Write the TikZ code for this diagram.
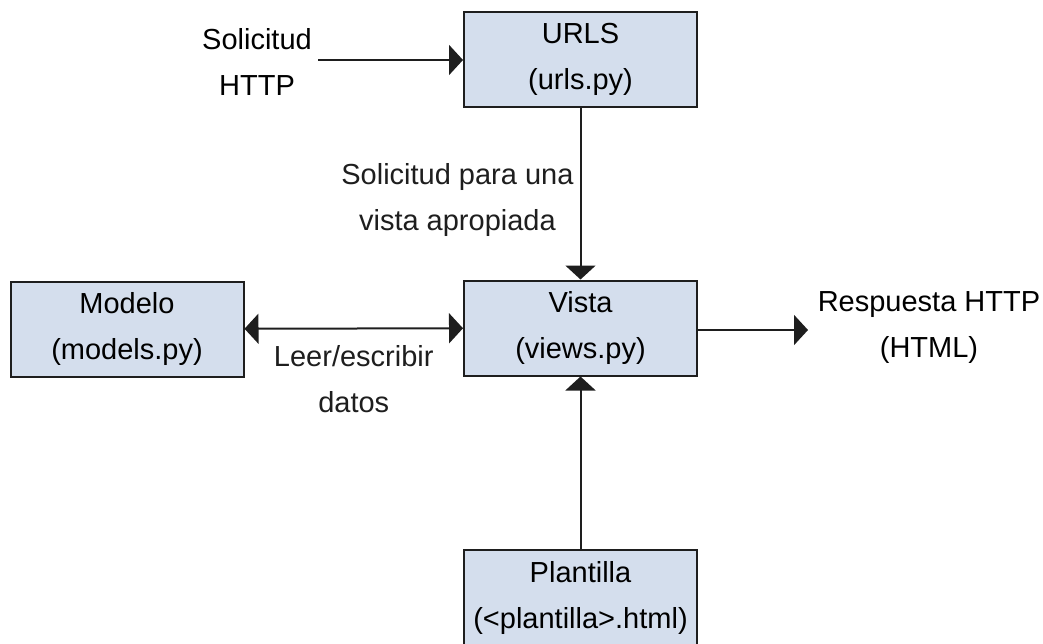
\documentclass[tikz,border=0pt]{standalone}
\usepackage{fontspec}
\setmainfont{Liberation Sans}
\usepackage{xcolor}
\definecolor{boxfill}{RGB}{212,222,237}
\definecolor{boxline}{RGB}{30,30,30}
\usetikzlibrary{arrows.meta,positioning}

\begin{document}
\begin{tikzpicture}[
    x=0.5pt, y=-0.5pt,
    comp/.style={rectangle, draw=boxline, line width=1pt, fill=boxfill,
                 minimum width=116.5pt, minimum height=47.5pt,
                 inner sep=0pt, align=center,
                 font=\fontsize{14.5}{23}\selectfont},
    lbl/.style={align=center, inner sep=0pt,
                font=\fontsize{14.5}{23}\selectfont},
    arr/.style={-{Triangle[length=7pt, width=15pt]}, line width=1pt, boxline},
    dblarr/.style={{Triangle[length=7pt, width=15pt]}-{Triangle[length=7pt, width=15pt]},
                   line width=1pt, boxline},
  ]
    \useasboundingbox (0,0) rectangle (1043,643);
    % components
    \node[comp] (urls) at (580.5,59.5) {URLS\\(urls.py)};
    \node[comp] (vista) at (580.5,328) {Vista\\(views.py)};
    \node[comp] (modelo) at (127,329) {Modelo\\(models.py)};
    \node[comp] (plantilla) at (580.5,597.5) {Plantilla\\(<plantilla>.html)};
    % free labels
    \node[lbl] (req) at (257,62) {Solicitud\\HTTP};
    \coordinate (reqend) at (318,60);
    \node[lbl] (resp) at (929,328) {Respuesta HTTP\\(HTML)};
    \coordinate (respend) at (808,330);
    % connectors
    \draw[arr] (reqend) -- (urls.west |- reqend);
    \draw[arr] (urls) -- node[lbl, left=3pt, yshift=-3pt] {Solicitud para una\\vista apropiada} (vista);
    \draw[dblarr] (modelo) -- node[lbl, below=8pt] {Leer/escribir\\datos} (vista);
    \draw[arr] (vista.east |- respend) -- (respend);
    \draw[arr] (plantilla) -- (vista);
\end{tikzpicture}
\end{document}
